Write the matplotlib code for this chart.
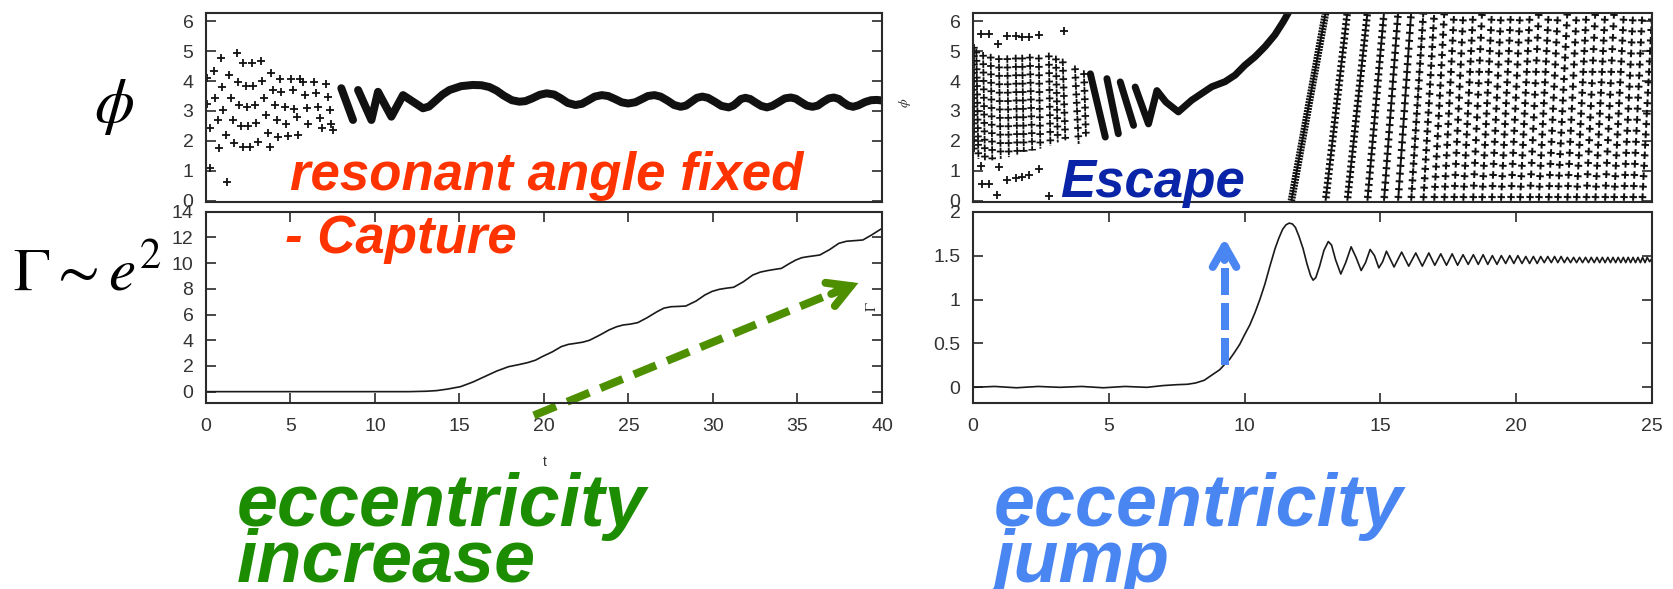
import numpy as np
import matplotlib.pyplot as plt

plt.rcParams['lines.scale_dashes'] = False
plt.rcParams['mathtext.fontset'] = 'stix'
plt.rcParams['font.family'] = ['Liberation Sans', 'DejaVu Sans']

nan = np.nan

# -----------------
# CAPTURE CASE (left column)
# -----------------
# scattered phase samples before the angle locks
cap_t = [0.04, 0.04, 0.24, 0.24, 0.47, 0.53, 0.73, 0.79, 0.87, 0.96, 1.02, 1.18,
         1.26, 1.38, 1.46, 1.58, 1.65, 1.81, 1.91, 1.97, 2.05, 2.17, 2.21, 2.36,
         2.44, 2.50, 2.60, 2.70, 2.80, 2.89, 2.99, 3.09, 3.23, 3.29, 3.43, 3.54,
         3.68, 3.78, 3.84, 3.98, 4.08, 4.21, 4.27, 4.37, 4.47, 4.67, 4.76, 4.86,
         5.06, 5.16, 5.20, 5.36, 5.45, 5.55, 5.75, 5.85, 5.95, 6.04, 6.38, 6.50,
         6.64, 6.77, 6.89, 7.13, 7.23, 7.32, 7.42, 7.52]
cap_phi = [4.09, 3.22, 2.42, 1.08, 4.33, 3.45, 2.70, 1.75, 4.76, 3.79, 3.03, 2.19,
           0.63, 4.20, 3.42, 2.70, 1.92, 4.95, 3.98, 3.20, 2.50, 1.80, 4.59, 3.83,
           3.14, 2.50, 1.80, 4.59, 3.83, 3.20, 2.61, 1.98, 4.68, 4.01, 3.42, 2.86,
           2.27, 1.80, 4.28, 3.70, 3.20, 2.70, 2.14, 4.07, 3.64, 3.14, 2.58, 2.16,
           4.07, 3.70, 3.05, 2.81, 2.19, 4.07, 3.98, 3.53, 3.09, 2.58, 3.98, 3.59,
           3.14, 2.75, 2.42, 3.90, 3.48, 3.03, 2.58, 2.36]

# locked libration band
band_t = [8.01, 8.70, nan, 9.00, 9.79, 10.18, 10.97, 11.66, 12.84, 13.2, 13.6, 14.0,
          14.41, 15.1, 15.79, 16.3, 16.77, 17.2, 17.6, 18.1, 18.55, 18.9, 19.3, 19.75,
          20.16, 20.6, 21.0, 21.4, 21.86, 22.25, 22.6, 23.0, 23.42, 23.8, 24.2, 24.6,
          24.98, 25.4, 25.8, 26.15, 26.54, 26.9, 27.3, 27.7, 28.09, 28.4, 28.7, 29.05,
          29.37, 29.7, 30.1, 30.5, 30.93, 31.2, 31.4, 31.65, 31.92, 32.2, 32.5, 32.85,
          33.19, 33.5, 33.9, 34.25, 34.61, 34.9, 35.2, 35.55, 35.88, 36.2, 36.5, 36.85,
          37.16, 37.45, 37.7, 38.0, 38.29, 38.6, 39.0, 39.35, 39.7, 40.0]
band_phi = [3.76, 2.70, nan, 3.70, 2.70, 3.64, 2.81, 3.53, 3.09, 3.15, 3.35, 3.55,
            3.70, 3.83, 3.87, 3.86, 3.80, 3.68, 3.52, 3.36, 3.31, 3.33, 3.42, 3.54,
            3.59, 3.55, 3.42, 3.27, 3.20, 3.24, 3.35, 3.48, 3.53, 3.50, 3.40, 3.29,
            3.25, 3.29, 3.40, 3.50, 3.53, 3.48, 3.35, 3.20, 3.14, 3.18, 3.30, 3.44,
            3.48, 3.44, 3.31, 3.17, 3.12, 3.18, 3.27, 3.40, 3.44, 3.40, 3.29, 3.17,
            3.12, 3.17, 3.30, 3.42, 3.45, 3.41, 3.30, 3.18, 3.14, 3.18, 3.30, 3.42,
            3.45, 3.40, 3.29, 3.18, 3.14, 3.19, 3.30, 3.36, 3.37, 3.35]

gam_cap_t = [0, 5, 10, 12, 13.0, 13.65, 14.3, 15.07, 15.8, 16.49, 17.2, 17.9, 18.5,
             19.04, 19.5, 19.89, 20.5, 21.02, 21.45, 21.87, 22.3, 22.7, 23.3, 23.85,
             24.3, 24.7, 25.1, 25.55, 26.1, 26.69, 27.1, 27.54, 27.95, 28.39, 29.0,
             29.52, 29.95, 30.37, 30.8, 31.22, 31.8, 32.35, 32.8, 33.2, 33.6, 34.05,
             34.5, 34.9, 35.25, 35.61, 36.0, 36.32, 36.9, 37.45, 37.9, 38.3, 38.6,
             38.87, 39.4, 40.0]
gam_cap = [0, 0, 0, 0.0, 0.03, 0.08, 0.2, 0.39, 0.75, 1.17, 1.6, 1.94, 2.1,
           2.26, 2.45, 2.72, 3.1, 3.5, 3.68, 3.76, 3.85, 4.0, 4.4, 4.8,
           5.05, 5.19, 5.25, 5.37, 5.75, 6.22, 6.5, 6.61, 6.63, 6.66, 7.05,
           7.52, 7.8, 7.96, 8.05, 8.12, 8.55, 9.07, 9.3, 9.41, 9.5, 9.59,
           9.95, 10.24, 10.42, 10.5, 10.57, 10.63, 11.05, 11.54, 11.7, 11.74, 11.77,
           11.8, 12.2, 12.7]

# -----------------
# ESCAPE CASE (right column)
# -----------------
# stacked columns of samples before escape: top end -> bottom end
col_t_top = [0.02, 0.12, 0.37, 0.65, 0.95, 1.26, 1.57, 1.81, 2.09, 2.42, 2.79, 3.05, 3.30, 3.75, 4.08]
col_phi_top = [5.25, 5.08, 4.97, 4.91, 4.86, 4.86, 4.88, 4.88, 4.91, 4.88, 4.95, 4.85, 4.75, 4.52, 4.36]
col_t_bot = [0.02, 0.20, 0.44, 0.71, 1.02, 1.32, 1.63, 1.87, 2.18, 2.48, 2.85, 3.12, 3.40, 3.89, 4.16]
col_phi_bot = [1.63, 1.40, 1.35, 1.35, 1.40, 1.46, 1.51, 1.63, 1.68, 1.74, 1.85, 1.95, 2.02, 1.90, 2.13]

esc_t = [0.28, 0.59, 0.93, 1.26, 1.57, 1.81, 2.06, 2.42, 3.34,
         0.34, 0.59, 1.26, 1.57, 1.81, 2.06, 2.42, 0.89, 2.79, 0.95, 0.30]
esc_phi = [5.58, 5.58, 5.25, 5.50, 5.50, 5.47, 5.47, 5.55, 5.66,
           0.56, 0.56, 0.68, 0.76, 0.81, 0.87, 1.07, 0.18, 0.15, 1.12, 1.15]

esc_band_t = [4.32, 4.87, nan, 4.93, 5.35, nan, 5.42, 5.91, nan, 5.97, 6.46, 6.77,
              7.1, 7.56, 8.05, 8.79, 9.28, 9.65, 10.01, 10.38, 10.75, 11.11, 11.42, 11.62]
esc_band_phi = [4.24, 2.13, nan, 4.08, 2.24, nan, 3.97, 2.52, nan, 3.80, 2.57, 3.68,
                3.30, 2.97, 3.36, 3.81, 3.98, 4.20, 4.53, 4.81, 5.15, 5.54, 5.98, 6.30]

# times where the circulating angle wraps from 2pi back to 0
wrap_t = [11.72, 12.98, 13.78, 14.52, 15.13, 15.65, 16.13, 16.58, 16.98, 17.35,
          17.71, 18.05, 18.41, 18.74, 19.10, 19.44, 19.80, 20.14, 20.50, 20.83,
          21.19, 21.53, 21.88, 22.22, 22.58, 22.91, 23.27, 23.60, 23.96, 24.30,
          24.64, 25.0]

gam_esc_t = [0, 0.8, 1.6, 2.4, 3.2, 4.0, 4.8, 5.6, 6.4, 7.0, 7.5, 7.9,
             8.2, 8.51, 8.7, 8.89, 9.08, 9.26, 9.45, 9.63, 9.82, 10.0, 10.19, 10.38,
             10.56, 10.75, 10.93, 11.12, 11.26, 11.4, 11.52, 11.64, 11.76, 11.87, 12.0,
             12.15, 12.3, 12.43, 12.52, 12.62, 12.76, 12.92, 13.08, 13.2, 13.35, 13.54,
             13.72, 13.92, 14.1, 14.29, 14.45, 14.62, 14.78, 14.94, 15.08, 15.22,
             15.5, 15.78, 16.04, 16.3, 16.54, 16.78, 17.0, 17.22, 17.43, 17.64, 17.84,
             18.04, 18.23, 18.42, 18.6, 18.78, 18.95, 19.12, 19.29, 19.45, 19.61, 19.76,
             19.91, 20.06, 20.21, 20.35, 20.49, 20.63, 20.77, 20.9, 21.03, 21.16, 21.29,
             21.41, 21.53, 21.65, 21.77, 21.88, 22.0, 22.11, 22.22, 22.33, 22.44, 22.55,
             22.66, 22.76, 22.87, 22.97, 23.07, 23.17, 23.27, 23.37, 23.47, 23.56, 23.66,
             23.75, 23.85, 23.94, 24.03, 24.12, 24.21, 24.3, 24.39, 24.48, 24.57, 24.65,
             24.74, 24.82, 24.91, 25.0]
gam_esc = [0.0, 0.01, -0.005, 0.01, 0.0, 0.01, -0.005, 0.01, 0.0, 0.02, 0.03, 0.035,
           0.05, 0.08, 0.12, 0.16, 0.2, 0.26, 0.32, 0.4, 0.49, 0.6, 0.71, 0.85,
           1.0, 1.18, 1.38, 1.58, 1.7, 1.8, 1.85, 1.87, 1.86, 1.82, 1.72,
           1.58, 1.4, 1.27, 1.22, 1.25, 1.38, 1.56, 1.66, 1.62, 1.45, 1.29,
           1.42, 1.60, 1.48, 1.33, 1.42, 1.57, 1.5, 1.36, 1.43, 1.55,
           1.37, 1.54, 1.38, 1.53, 1.38, 1.53, 1.39, 1.52, 1.39, 1.52, 1.39,
           1.51, 1.40, 1.51, 1.40, 1.51, 1.40, 1.50, 1.40, 1.50, 1.41, 1.50,
           1.41, 1.50, 1.41, 1.49, 1.41, 1.49, 1.41, 1.49, 1.42, 1.49, 1.42,
           1.49, 1.42, 1.49, 1.42, 1.48, 1.42, 1.48, 1.42, 1.48, 1.42, 1.48,
           1.42, 1.48, 1.42, 1.48, 1.42, 1.48, 1.42, 1.48, 1.42, 1.48, 1.42,
           1.48, 1.42, 1.48, 1.42, 1.48, 1.42, 1.48, 1.42, 1.48, 1.42, 1.48,
           1.42, 1.48, 1.43, 1.47]

TWO_PI = 6.283
PX = 0.72  # points per pixel at 100 dpi
INK = '#111111'
FRAME = '#2a2a2a'


def plus_line(ax, t, phi, spacing, arm=7.5, bar=1.8):
    """Draw a segment as a chain of '+' marks spaced `spacing` px apart."""
    if spacing < arm + 0.6:
        ax.plot(t, phi, color=INK, lw=bar * PX, solid_capstyle='butt')
    else:
        ax.plot(t, phi, color=INK, lw=bar * PX, dash_capstyle='butt',
                linestyle=(0, (arm * PX, (spacing - arm) * PX)))
    start = arm / 2 - bar / 2
    ax.plot(t, phi, color=INK, lw=arm * PX, dash_capstyle='butt',
            linestyle=((spacing - start) * PX, (bar * PX, (spacing - bar) * PX)))


def style_axes(ax, xlim, ylim, yticks, yticklabels=None, xticks=None):
    ax.set_xlim(*xlim)
    ax.set_ylim(*ylim)
    for s in ax.spines.values():
        s.set_linewidth(1.5)
        s.set_color(FRAME)
    ax.set_yticks(yticks)
    if yticklabels is not None:
        ax.set_yticklabels(yticklabels)
    ax.tick_params(axis='y', direction='in', length=7, width=1.2, color=FRAME,
                   left=True, right=True, labelsize=14, labelcolor='#333333', pad=9)
    if xticks is None:
        ax.tick_params(axis='x', bottom=False, top=False, labelbottom=False)
    else:
        ax.set_xticks(xticks)
        ax.tick_params(axis='x', direction='in', length=7, width=1.2, color=FRAME,
                       bottom=True, top=True, labelsize=14, labelcolor='#333333', pad=11)


fig = plt.figure(figsize=(16.73, 5.89), dpi=100)
ax_tl = fig.add_axes([0.1231, 0.6576, 0.4041, 0.3208])
ax_bl = fig.add_axes([0.1231, 0.3163, 0.4041, 0.3243])
ax_tr = fig.add_axes([0.5816, 0.6576, 0.4059, 0.3208])
ax_br = fig.add_axes([0.5816, 0.3163, 0.4059, 0.3243])

# -----------------
# PHASE, CAPTURE
# -----------------
ax_tl.plot(cap_t, cap_phi, ls='none', marker='+', ms=7.5 * PX, mew=1.8 * PX, color=INK)
ax_tl.plot(band_t, band_phi, color=INK, lw=8 * PX, solid_capstyle='round',
           solid_joinstyle='round')
style_axes(ax_tl, (0, 40), (-0.03, TWO_PI), range(7))

# -----------------
# PHASE, ESCAPE
# -----------------
for tt, pt, tb, pb in zip(col_t_top, col_phi_top, col_t_bot, col_phi_bot):
    plus_line(ax_tr, [tt, tb], [pt, pb], spacing=8.4)
ax_tr.plot(esc_t, esc_phi, ls='none', marker='+', ms=7.5 * PX, mew=1.8 * PX, color=INK)
ax_tr.plot(esc_band_t, esc_band_phi, color=INK, lw=7 * PX, solid_capstyle='round',
           solid_joinstyle='round')
for t0, t1 in zip(wrap_t[:-1], wrap_t[1:]):
    period = t1 - t0
    plus_line(ax_tr, [t0, t1], [0, TWO_PI], spacing=max(3.0, 3.76 / period), bar=2.0)
style_axes(ax_tr, (0, 25), (-0.03, TWO_PI), range(7))

# -----------------
# GAMMA (~ e^2)
# -----------------
ax_bl.plot(gam_cap_t, gam_cap, color='#1a1a1a', lw=1.2)
style_axes(ax_bl, (0, 40), (-0.86, 14), range(0, 15, 2), xticks=range(0, 41, 5))

ax_br.plot(gam_esc_t, gam_esc, color='#1a1a1a', lw=1.2)
style_axes(ax_br, (0, 25), (-0.175, 2), [0, 0.5, 1, 1.5, 2],
           ['0', '0.5', '1', '1.5', '2'], xticks=range(0, 26, 5))

# arrows
green = '#4e8f00'
ax_bl.plot([19.4, 37.6], [-1.85, 7.95], color=green, lw=8 * PX, clip_on=False,
           linestyle=(0, (24 * PX, 12 * PX)), dash_capstyle='butt')
ax_bl.annotate('', xy=(38.6, 8.45), xytext=(37.0, 7.6), annotation_clip=False,
               arrowprops=dict(arrowstyle='->, head_length=1.6, head_width=0.9',
                               color=green, lw=8 * PX, shrinkA=0, shrinkB=0,
                               capstyle='round', joinstyle='miter'))

blue = '#4a86f2'
ax_br.plot([9.26, 9.26], [0.25, 1.52], color=blue, lw=8 * PX,
           linestyle=(0, (27 * PX, 8 * PX)), dash_capstyle='butt')
ax_br.annotate('', xy=(9.26, 1.70), xytext=(9.26, 1.45), annotation_clip=False,
               arrowprops=dict(arrowstyle='->, head_length=1.5, head_width=0.85',
                               color=blue, lw=8 * PX, shrinkA=0, shrinkB=0))

# -----------------
# LABELS
# -----------------
W, H = 1673.0, 589.0


def ftext(x, y, s, **kw):
    return fig.text(x / W, 1 - y / H, s, **kw)


ftext(114, 107, r'$\phi$', fontsize=46, ha='center', va='center')
ftext(13, 290, r'$\Gamma \sim e^2$', fontsize=44, ha='left', va='baseline')

bold_it = dict(weight='bold', style='italic', family='Liberation Sans', va='baseline')
ftext(290, 190, 'resonant angle fixed', fontsize=38, color='#ff3300', **bold_it)
ftext(285, 253, '- Capture', fontsize=38, color='#ff3300', **bold_it)
ftext(1060, 197, 'Escape', fontsize=38, color='#0a24a8', **bold_it)
ftext(237, 526, 'eccentricity', fontsize=53, color='#1c8c00', **bold_it)
ftext(237, 582, 'increase', fontsize=53, color='#1c8c00', **bold_it)
ftext(994, 526, 'eccentricity', fontsize=53, color=blue, **bold_it)
ftext(994, 582, 'jump', fontsize=53, color=blue, **bold_it)

ftext(905, 103, r'$\phi$', fontsize=10, rotation=90, ha='center', va='center', color='#333333')
ftext(872, 307, r'$\Gamma$', fontsize=11, rotation=90, ha='center', va='center', color='#333333')
ftext(545, 462, 't', fontsize=10, ha='center', va='center', color='#333333')

fig.savefig('out.png', dpi=100)
